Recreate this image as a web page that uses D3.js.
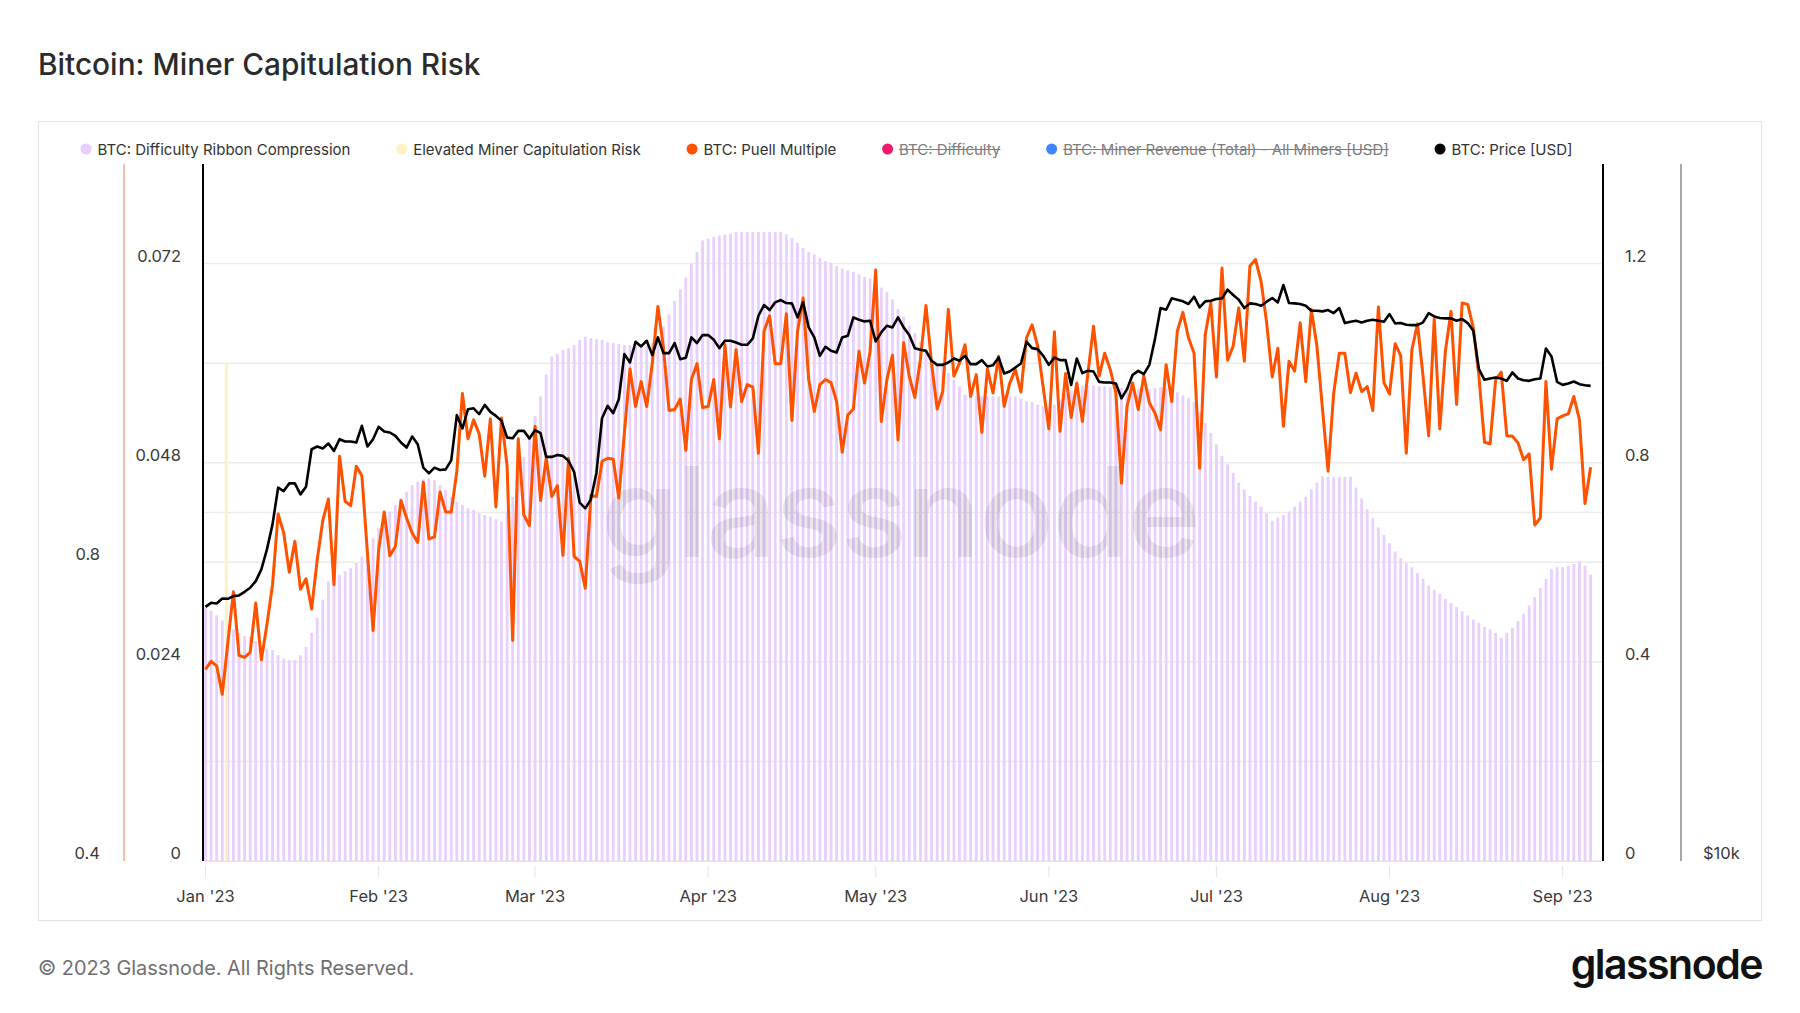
<!DOCTYPE html>
<html><head><meta charset="utf-8">
<script src="https://cdn.jsdelivr.net/npm/d3@7"></script>
<style>
html,body{margin:0;padding:0;background:#fff;}
svg{display:block;font-family:Inter,"Noto Sans",sans-serif;}
</style></head><body>
<svg id="chart" width="1800" height="1013"></svg>
<script>
// ---------------- DATA ----------------
const startDate = "2023-01-01";           // first daily observation
const ribbonCompression = [
0.0305,0.0302,0.0296,0.0290,0.0285,0.0279,0.0275,0.0271,0.0270,0.0265,
0.0260,0.0256,0.0254,0.0248,0.0244,0.0242,0.0242,0.0248,0.0258,0.0275,
0.0293,0.0315,0.0337,0.0341,0.0345,0.0349,0.0353,0.0359,0.0367,0.0377,
0.0389,0.0401,0.0413,0.0421,0.0429,0.0437,0.0445,0.0453,0.0457,0.0460,
0.0461,0.0459,0.0453,0.0447,0.0439,0.0433,0.0429,0.0425,0.0423,0.0419,
0.0417,0.0415,0.0412,0.0409,0.0421,0.0439,0.0465,0.0487,0.0510,0.0536,
0.0560,0.0586,0.0608,0.0611,0.0616,0.0618,0.0622,0.0628,0.0632,0.0630,
0.0629,0.0628,0.0625,0.0624,0.0623,0.0622,0.0622,0.0621,0.0621,0.0621,
0.0624,0.0632,0.0644,0.0659,0.0675,0.0689,0.0703,0.0720,0.0734,0.0748,
0.0750,0.0752,0.0754,0.0755,0.0756,0.0758,0.0758,0.0758,0.0758,0.0758,
0.0758,0.0758,0.0758,0.0758,0.0755,0.0751,0.0745,0.0739,0.0734,0.0731,
0.0727,0.0723,0.0721,0.0717,0.0714,0.0712,0.0710,0.0707,0.0704,0.0702,
0.0695,0.0691,0.0686,0.0677,0.0665,0.0656,0.0645,0.0636,0.0626,0.0616,
0.0606,0.0600,0.0596,0.0588,0.0580,0.0572,0.0562,0.0560,0.0560,0.0560,
0.0560,0.0560,0.0560,0.0560,0.0560,0.0560,0.0557,0.0554,0.0553,0.0550,
0.0548,0.0547,0.0550,0.0556,0.0562,0.0567,0.0571,0.0573,0.0573,0.0573,
0.0572,0.0572,0.0571,0.0570,0.0570,0.0570,0.0570,0.0569,0.0569,0.0569,
0.0570,0.0571,0.0570,0.0568,0.0565,0.0561,0.0558,0.0553,0.0541,0.0528,
0.0516,0.0502,0.0488,0.0478,0.0468,0.0456,0.0448,0.0440,0.0433,0.0427,
0.0419,0.0410,0.0414,0.0417,0.0421,0.0427,0.0433,0.0439,0.0448,0.0456,
0.0464,0.0463,0.0463,0.0463,0.0463,0.0463,0.0450,0.0437,0.0424,0.0413,
0.0402,0.0393,0.0383,0.0373,0.0365,0.0359,0.0354,0.0347,0.0340,0.0332,
0.0327,0.0322,0.0316,0.0311,0.0306,0.0301,0.0296,0.0291,0.0287,0.0282,
0.0279,0.0275,0.0269,0.0275,0.0281,0.0289,0.0298,0.0308,0.0318,0.0329,
0.0340,0.0352,0.0354,0.0354,0.0356,0.0358,0.0361,0.0356,0.0345];
const puellMultiple = [
0.385,0.401,0.392,0.335,0.438,0.541,0.413,0.409,0.419,0.518,
0.404,0.475,0.555,0.697,0.659,0.580,0.642,0.546,0.567,0.506,
0.605,0.684,0.727,0.555,0.813,0.722,0.714,0.793,0.774,0.618,
0.463,0.625,0.701,0.613,0.632,0.724,0.689,0.659,0.640,0.761,
0.647,0.651,0.741,0.701,0.701,0.783,0.939,0.848,0.886,0.858,
0.773,0.888,0.711,0.890,0.793,0.443,0.848,0.695,0.674,0.873,
0.724,0.809,0.732,0.754,0.614,0.809,0.612,0.602,0.548,0.734,
0.732,0.803,0.809,0.807,0.729,0.860,0.988,0.913,0.963,0.913,
1.000,1.114,1.030,0.905,0.907,0.928,0.825,0.967,0.999,0.911,
0.913,0.967,0.848,1.037,0.912,1.027,0.923,0.957,0.952,0.819,
1.064,1.095,0.999,0.999,1.099,0.885,1.064,1.131,0.967,0.903,
0.957,0.967,0.961,0.923,0.821,0.896,0.908,1.024,0.960,1.024,
1.187,0.883,0.967,1.016,0.846,1.041,0.974,0.931,1.007,1.116,
1.000,0.908,0.943,1.108,0.974,1.000,1.037,0.933,0.977,0.861,
0.988,0.940,1.014,0.913,0.960,0.987,0.942,1.051,1.077,1.034,
0.950,0.868,1.063,0.863,0.979,0.891,0.960,0.883,0.980,1.074,
0.974,1.020,0.987,0.940,0.759,0.913,0.960,0.907,0.974,0.920,
0.900,0.866,0.997,0.923,1.064,1.102,1.051,1.020,0.789,1.057,
1.121,0.972,1.191,1.006,1.034,1.111,1.004,1.195,1.208,1.164,
1.081,0.972,1.030,0.873,1.004,0.984,1.081,0.963,1.108,1.034,
0.907,0.783,0.940,1.020,1.020,0.941,0.980,0.943,0.953,0.905,
1.113,0.961,0.938,1.039,1.015,0.819,1.027,1.079,0.974,0.854,
1.089,0.868,1.024,1.104,0.917,1.121,1.118,1.071,0.974,0.841,
0.838,0.967,0.982,0.854,0.853,0.840,0.806,0.818,0.675,0.689,
0.963,0.787,0.888,0.894,0.898,0.933,0.886,0.718,0.791];
const priceUSD = [
16578,16711,16689,16856,16845,16935,16958,17082,17219,17449,
17859,18585,19534,21012,20872,21193,21193,20734,21054,22683,
22804,22713,22940,22608,23139,23032,23032,22986,23762,22804,
23139,23715,23495,23449,23293,22986,22758,23263,22909,21865,
21619,21865,21763,21792,22186,24272,23636,24563,24604,24320,
24776,24433,24239,23999,23215,23184,23526,23526,23170,23557,
23417,22338,22338,22427,22383,22162,21677,20395,20166,20531,
21648,24127,24727,24369,25050,27404,26953,28087,27827,28143,
27350,28331,27459,27459,28012,27133,27205,28331,28012,28462,
28462,28199,27733,28143,28143,28049,27919,27919,28274,29580,
30215,29916,30376,30518,30335,30316,29483,30376,28902,28331,
27313,27808,27588,27496,28331,28425,29483,29346,29249,29287,
28106,28614,28998,28902,29483,28902,28462,27733,27643,27588,
27043,26828,26828,26953,27169,27043,27313,26864,26864,27079,
26739,26810,27223,26369,26474,26686,26900,28087,27733,27680,
27313,26828,27223,27079,27079,25780,27169,26387,26510,26474,
25935,25900,25900,25848,25099,25559,26300,26510,26334,26828,
28236,30035,29936,30620,30538,30437,30276,30722,30075,30437,
30477,30579,30620,31153,30824,30538,30035,30316,30276,30175,
30417,30640,30376,31443,30335,30316,30276,30175,29877,29877,
29837,29916,29737,30035,29151,29229,29287,29190,29287,29346,
29287,29229,29678,29131,29151,29054,29034,29034,29190,29737,
29541,29443,29424,29424,29287,29384,29151,28710,26597,26039,
26108,26160,26108,25987,26422,26108,26021,25987,26073,26108,
27714,27277,25935,25780,25848,25952,25814,25763,25729];
const elevatedRiskDates = ["2023-01-05"];
const elevatedRiskValues = [1];

const ribbonTicks = [0, 0.024, 0.048, 0.072];
const ribbonGridTicks = [0, 0.012, 0.024, 0.036, 0.048, 0.06, 0.072];
const puellTicks = [0, 0.4, 0.8, 1.2];
const difficultyTicks = [0.4, 0.8];
const priceTicks = [10000];
const priceGridTicks = [20000];
const monthTicks = ["2023-01-01","2023-02-01","2023-03-01","2023-04-01","2023-05-01",
                    "2023-06-01","2023-07-01","2023-08-01","2023-09-01"];

const legendLabels = ["BTC: Difficulty Ribbon Compression","Elevated Miner Capitulation Risk",
  "BTC: Puell Multiple","BTC: Difficulty","BTC: Miner Revenue (Total) - All Miners [USD]","BTC: Price [USD]"];
const legendColors = ["#e8ccfb","#fdf1c6","#ff5200","#ee1a6b","#3d86f6","#000000"];
const legendHidden = [false,false,false,true,true,false];

// ---------------- LAYOUT ----------------
const plot = {left: 203, right: 1603, top: 164, bottom: 861};
const DAY = 864e5;
const t0 = new Date(startDate);
const dates = ribbonCompression.map((_, i) => new Date(+t0 + i * DAY));

const svg = d3.select("#chart");

const x = d3.scaleUtc()
  .domain([new Date(+t0 - 0.448 * DAY), new Date(+t0 + 250.22 * DAY)])
  .range([plot.left, plot.right]);
const yRibbon = d3.scaleLinear().domain([0, 0.084]).range([plot.bottom, plot.top]);
const yPuell = d3.scaleLinear().domain([0, 1.4]).range([plot.bottom, plot.top]);
const yPrice = d3.scaleLog().domain([10000, 40000]).range([plot.bottom, plot.top]);
const yDiff = d3.scaleLinear().domain([0.4, 1.3333]).range([plot.bottom, plot.top]);

// frame
svg.append("rect").attr("x", 38.5).attr("y", 121.5).attr("width", 1723).attr("height", 799)
  .attr("fill", "none").attr("stroke", "#e3e3e3").attr("stroke-width", 1);

// title
svg.append("text").attr("x", 38).attr("y", 75).attr("font-size", 29.8).attr("font-weight", 500)
  .attr("fill", "#2b2b2b").text("Bitcoin: Miner Capitulation Risk");

// legend
const legend = svg.append("g");
let lx = 86;
legendLabels.forEach((lab, i) => {
  legend.append("circle").attr("cx", lx).attr("cy", 149).attr("r", 5.5).attr("fill", legendColors[i]);
  const t = legend.append("text").attr("x", lx + 11.5).attr("y", 154.5).attr("font-size", 15)
    .attr("fill", legendHidden[i] ? "#7d7d7d" : "#333").text(lab);
  const w = t.node().getComputedTextLength();
  if (legendHidden[i]) {
    legend.append("line").attr("x1", lx + 11.5).attr("x2", lx + 11.5 + w)
      .attr("y1", 149.5).attr("y2", 149.5).attr("stroke", "#7d7d7d").attr("stroke-width", 1);
  }
  lx = lx + 11.5 + w + 51.3;
});

// gridlines
const grid = svg.append("g");
ribbonGridTicks.forEach(v => {
  grid.append("line").attr("x1", plot.left).attr("x2", plot.right)
    .attr("y1", yRibbon(v)).attr("y2", yRibbon(v)).attr("stroke", "#ebebeb").attr("stroke-width", 1.5);
});
priceGridTicks.forEach(v => {
  grid.append("line").attr("x1", plot.left).attr("x2", plot.right)
    .attr("y1", yPrice(v)).attr("y2", yPrice(v)).attr("stroke", "#ebebeb").attr("stroke-width", 1.5);
});

// ribbon bars
const barW = 2.8;
svg.append("g").selectAll("rect").data(ribbonCompression).join("rect")
  .attr("x", (d, i) => x(dates[i]) - barW / 2)
  .attr("width", barW)
  .attr("y", d => yRibbon(d))
  .attr("height", d => plot.bottom - yRibbon(d))
  .attr("fill", "#e9cffc");

// elevated risk
svg.append("g").selectAll("rect").data(elevatedRiskValues).join("rect")
  .attr("x", (d, i) => x(new Date(elevatedRiskDates[i])) - 3)
  .attr("width", 3)
  .attr("y", d => yPuell(d))
  .attr("height", d => plot.bottom - yPuell(d))
  .attr("fill", "#fdf1c6");

// watermark
svg.append("text").attr("x", 900).attr("y", 557).attr("text-anchor", "middle")
  .attr("font-size", 125).attr("font-weight", 500).attr("fill", "#000").attr("opacity", 0.085)
  .attr("letter-spacing", -2).text("glassnode");

// x axis
const xAxisG = svg.append("g");
xAxisG.append("line").attr("x1", plot.left).attr("x2", plot.right).attr("y1", plot.bottom + 0.5)
  .attr("y2", plot.bottom + 0.5).attr("stroke", "#e3e3e3");
const fmt = d3.utcFormat("%b '%y");
monthTicks.forEach(s => {
  const d = new Date(s);
  xAxisG.append("line").attr("x1", x(d)).attr("x2", x(d)).attr("y1", 866).attr("y2", 877)
    .attr("stroke", "#e3e3e3");
  xAxisG.append("text").attr("x", x(d)).attr("y", 902).attr("text-anchor", "middle")
    .attr("font-size", 16.5).attr("fill", "#3a3a3a").text(fmt(d));
});

// vertical axis lines
const axisLine = (xx, color, w) => svg.append("line").attr("x1", xx).attr("x2", xx)
  .attr("y1", plot.top).attr("y2", plot.bottom).attr("stroke", color).attr("stroke-width", w);
axisLine(124, "#f6a88e", 1.5);
axisLine(1681, "#8c8c8c", 1.5);

// y tick labels
const lab = (xx, yy, txt, anchor) => svg.append("text").attr("x", xx).attr("y", yy)
  .attr("text-anchor", anchor).attr("font-size", 16.5).attr("fill", "#3a3a3a").text(txt);
ribbonTicks.forEach(v => lab(181, yRibbon(v) - 2, d3.format("")(v), "end"));
difficultyTicks.forEach(v => lab(100, yDiff(v) - 2, d3.format("")(v), "end"));
puellTicks.forEach(v => lab(1625, yPuell(v) - 2, d3.format("")(v), "start"));
priceTicks.forEach(v => lab(1703, yPrice(v) - 2, "$" + d3.format("~s")(v), "start"));

// lines
const puellLine = d3.line().x((d, i) => x(dates[i])).y(d => yPuell(d));
svg.append("path").attr("d", puellLine(puellMultiple)).attr("fill", "none")
  .attr("stroke", "#ff5200").attr("stroke-width", 3).attr("stroke-linejoin", "round");
const priceLine = d3.line().x((d, i) => x(dates[i])).y(d => yPrice(d));
svg.append("path").attr("d", priceLine(priceUSD)).attr("fill", "none")
  .attr("stroke", "#000").attr("stroke-width", 2.6).attr("stroke-linejoin", "round");

axisLine(plot.left, "#000", 2);
axisLine(plot.right, "#000", 2);

// footer
svg.append("text").attr("x", 38).attr("y", 975).attr("font-size", 19.9).attr("fill", "#6f6f6f")
  .text("© 2023 Glassnode. All Rights Reserved.");
svg.append("text").attr("x", 1762).attr("y", 979).attr("text-anchor", "end").attr("font-size", 41)
  .attr("font-weight", 600).attr("letter-spacing", -1.5).attr("fill", "#111").text("glassnode");
</script>
</body></html>
